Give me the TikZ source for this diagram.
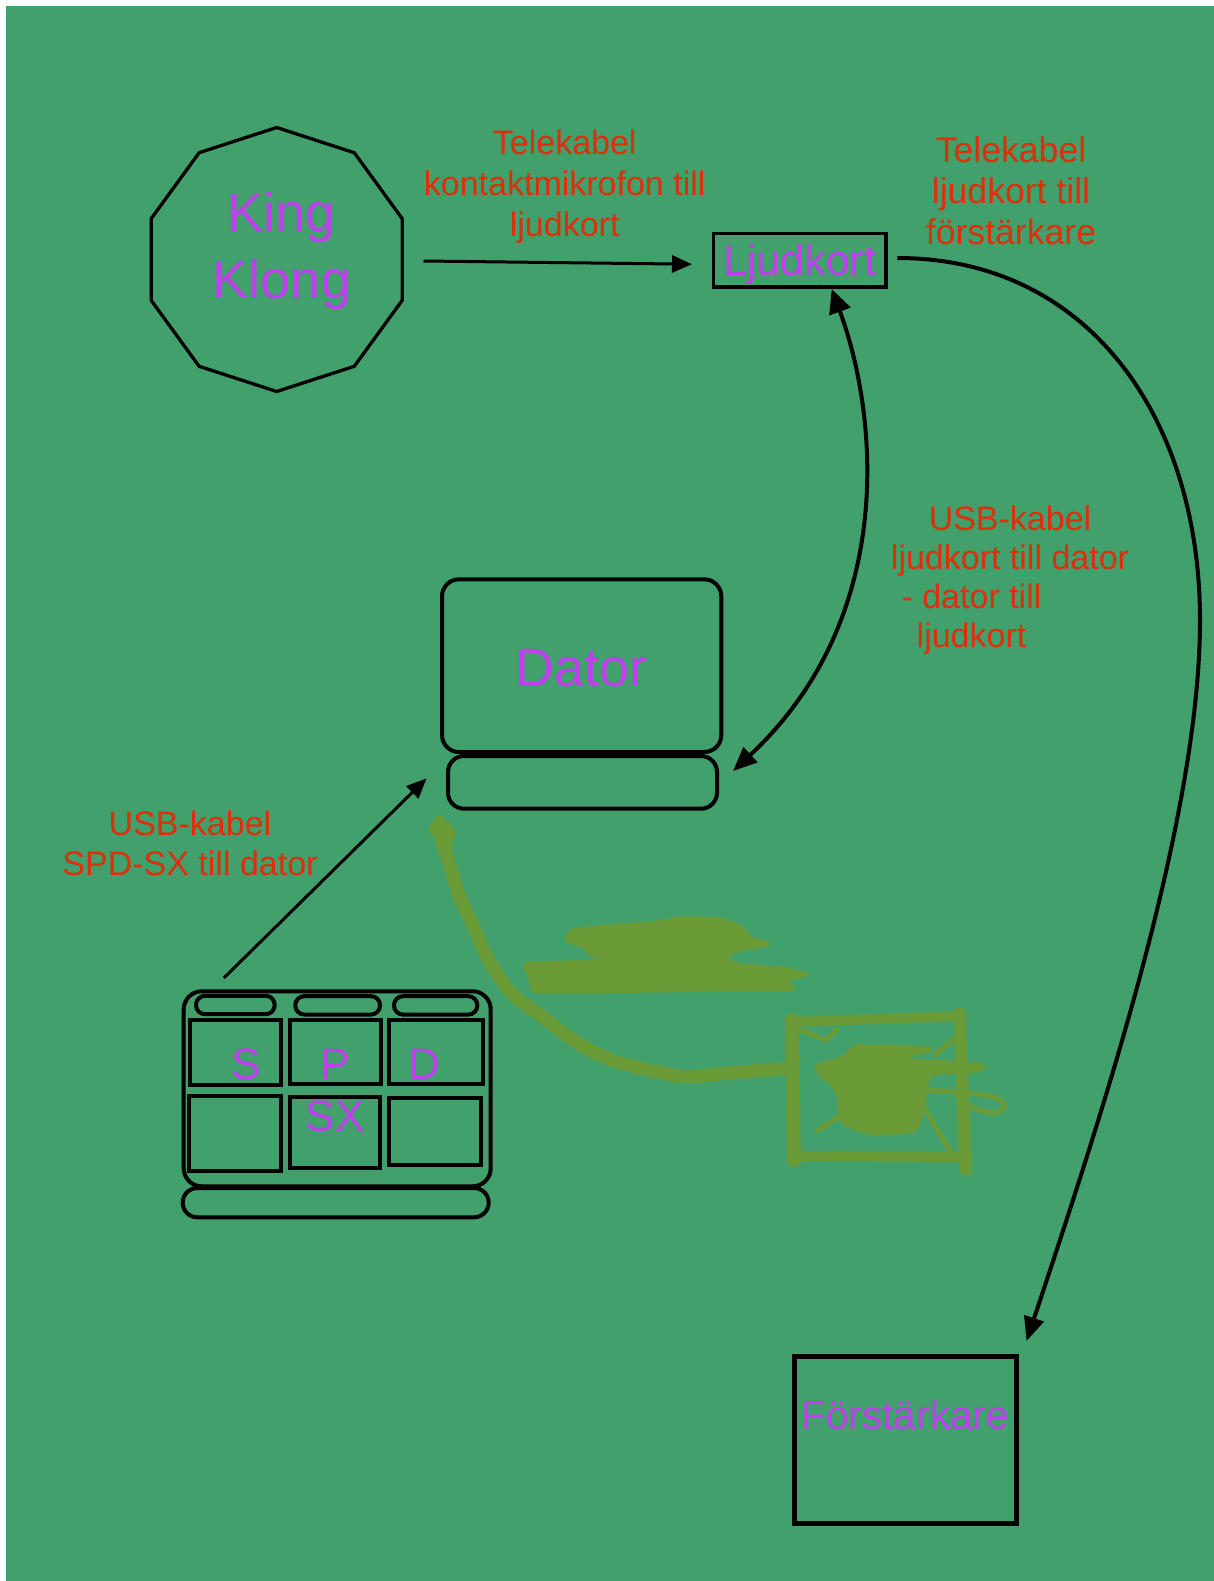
\documentclass[tikz,border=0pt]{standalone}
\usepackage{fontspec}
\setmainfont{Liberation Sans}
\usetikzlibrary{arrows.meta,calc}
\definecolor{bggreen}{RGB}{65,160,107}
\definecolor{txtpurple}{RGB}{192,64,240}
\definecolor{txtred}{RGB}{222,46,10}
\definecolor{scrib}{RGB}{106,154,53}
\begin{document}
\begin{tikzpicture}[x=0.5pt,y=-0.5pt,
  shapebox/.style={draw=black, line width=2pt, inner sep=0pt},
  ptext/.style={text=txtpurple, inner sep=0pt},
  rtext/.style={text=txtred, align=center, inner sep=0pt, font=\fontsize{17pt}{20.5pt}\selectfont},
  straightconn/.style={draw=black, line width=1.5pt, -{Triangle[length=10pt,width=8.5pt]}},
  curveconn/.style={draw=black, line width=2pt},
  scribline/.style={draw=scrib, line cap=round, line join=round},
  pill/.style={shapebox, rounded corners=4.5pt, minimum height=9.2pt},
  pad/.style={shapebox}]
\useasboundingbox (0,0) rectangle (1214,1581);
\fill[white] (0,0) rectangle (1214,1581);
\fill[bggreen] (6,6) rectangle (1214,1581);

% ---- green scribble (freehand drawing) ----
\fill[scrib, rounded corners=2pt] (439,813) -- (447,822) -- (457,830) -- (455,837) -- (451,845) -- (452,858) -- (444,860) -- (440,848) -- (436,837) -- (428,832) -- (430,825) -- cycle;
\draw[scribline, line width=6.5pt] plot[smooth, tension=0.6] coordinates {(441,840) (450.6,866.7) (458.3,893.3) (473.6,926.7) (488.9,960) (511.8,993.3) (542.5,1016.7) (573.1,1040) (611.4,1060) (657.3,1071.7) (687.9,1076.7) (726.2,1073.3) (792,1068)};
\fill[scrib, rounded corners=3pt] (569.3,928.3) -- (603.7,925) -- (649.6,921.7) -- (680.2,916) -- (722.3,917) -- (745.3,926.7) -- (749.1,936.7) -- (772.1,941.7) -- (768.3,946.7) -- (735,952) -- (728,960) -- (640,961) -- (590,958) -- (584.6,948) -- (563.5,941.7) -- (565.4,936.7) -- cycle;
\fill[scrib, rounded corners=3pt] (523.3,961.7) -- (580.7,960) -- (630.5,957) -- (726.2,957) -- (737.6,963.3) -- (783.6,966.7) -- (810.4,973.3) -- (808.4,976.7) -- (787.4,980) -- (797,988.3) -- (793.1,991.7) -- (710.9,991.7) -- (603.7,993.3) -- (531,993.3) -- (529.1,980) -- (523.3,966.7) -- cycle;
\draw[scribline, line width=5pt] (791,1022) -- (960,1016) -- (963,1157) -- (793,1156) -- cycle;
\draw[scribline, line width=7pt] (792,1020) -- (794,1160);
\draw[scribline, line width=6pt] (959.6,1013) -- (966,1170);
\fill[scrib, rounded corners=4pt] (852,1044) -- (933,1046) -- (934,1052) -- (905,1058) -- (986,1063) -- (986,1072) -- (930,1075) -- (925,1110) -- (917.5,1133) -- (872,1136) -- (840,1125) -- (836,1090) -- (814,1072) -- (814,1063) -- (840,1058) -- (850,1050) -- cycle;
\draw[scribline, line width=2.5pt] (800.8,1030) -- (825.7,1040) -- (837,1030);
\draw[scribline, line width=2.5pt] (818,1130) -- (852.5,1108);
\draw[scribline, line width=2.5pt] (917.5,1096.7) -- (955.8,1160);
\draw[scribline, line width=2.5pt] (935,1055) -- (955,1038);
\draw[scribline, line width=2.5pt] plot[smooth] coordinates {(913,1090) (960,1092) (994,1097) (1005,1106) (994,1113) (971,1107) (956,1094)};

% ---- King Klong (decagon) ----
\draw[line width=1.65pt, line join=miter, shift={(276.7,259.5)}] (90:132) \foreach \a in {126,162,...,414} { -- (\a:132) } -- cycle;
\node[ptext, align=center, font=\fontsize{27pt}{33.3pt}\selectfont] (kk) at (282,251.2) {King\\Klong};

% ---- Ljudkort ----
\node[shapebox, line width=1.8pt, minimum width=86.25pt, minimum height=26.75pt, text=txtpurple, font=\fontsize{21.5pt}{25pt}\selectfont, text height=14.75pt, text depth=0pt] (ljud) at (799.75,260.25) {Ljudkort};

% ---- Dator ----
\node[shapebox, rounded corners=8.5pt, minimum width=139.65pt, minimum height=86.35pt, text=txtpurple, font=\fontsize{27pt}{32pt}\selectfont, text height=21.05pt, text depth=0pt] (dator) at (581.65,665.65) {Dator};
\node[shapebox, rounded corners=8pt, minimum width=134.5pt, minimum height=26.35pt] (datorbas) at (582.5,782.35) {};

% ---- Förstärkare ----
\node[shapebox, line width=2.5pt, minimum width=111.25pt, minimum height=83.25pt, text=txtpurple, font=\fontsize{20.3pt}{24pt}\selectfont, text height=0pt, text depth=10.45pt] (forst) at (905.25,1439.75) {Förstärkare};

% ---- SPD-SX ----
\node[shapebox, rounded corners=9pt, minimum width=153.5pt, minimum height=97.5pt] (spd) at (337.2,1088.8) {};
\node[shapebox, rounded corners=7.3pt, minimum width=153pt, minimum height=14.65pt] (spdbar) at (335.7,1202.65) {};
\node[pill, minimum width=39.35pt] (pillA) at (235.35,1005) {};
\node[pill, minimum width=42.35pt] (pillB) at (337.65,1005.35) {};
\node[pill, minimum width=41.65pt] (pillC) at (435.65,1005.35) {};
\node[pad, minimum width=45.2pt, minimum height=32.2pt] (padA) at (235.5,1052.5) {};
\node[pad, minimum width=45.5pt, minimum height=31.85pt] (padB) at (335.8,1052.15) {};
\node[pad, minimum width=46.85pt, minimum height=31.85pt] (padC) at (436.15,1052.15) {};
\node[pad, minimum width=46pt, minimum height=37.35pt] (padD) at (234.7,1133.35) {};
\node[pad, minimum width=44.85pt, minimum height=35.5pt] (padE) at (335.15,1132.5) {};
\node[pad, minimum width=45.7pt, minimum height=33.65pt] (padF) at (435,1131.65) {};
\node[ptext, align=center, font=\fontsize{22pt}{25.85pt}\selectfont] (spdtext) at (335,1090.1) {\makebox[44.6pt]{S}\makebox[44.6pt]{P}\makebox[44.6pt]{D}\\SX};

% ---- red labels ----
\node[rtext] (lab1) at (564.7,186.3) {Telekabel\\kontaktmikrofon till\\ljudkort};
\node[rtext, font=\fontsize{17.8pt}{20.65pt}\selectfont] (lab2) at (1011,190.6) {Telekabel\\ljudkort till\\förstärkare};
\node[rtext, font=\fontsize{17pt}{19.5pt}\selectfont] (lab3) at (1010,579.8) {USB-kabel\\ljudkort till dator\\- dator till\rule{38.5pt}{0pt}\\ljudkort\rule{38.5pt}{0pt}};
\node[rtext, font=\fontsize{17pt}{20pt}\selectfont] (lab4) at (190,843.7) {USB-kabel\\SPD-SX till dator};

% ---- connectors ----
\coordinate (kkout) at (423.5,261);
\coordinate (ljudin) at (692,264.2);
\draw[straightconn] (kkout) -- (ljudin);

\coordinate (ljudbot) at (831.7,289);
\coordinate (datorin) at (733,771);
\draw[curveconn, {Triangle[length=12pt,width=11pt]}-{Triangle[length=12pt,width=10pt]}] (ljudbot) .. controls (880,420) and (895,620) .. (datorin);

\coordinate (ljudout) at (897.4,258);
\coordinate (bend) at (1200,620);
\coordinate (forstin) at (1026.5,1341);
\draw[curveconn, -{Triangle[length=12pt,width=10pt]}] (ljudout) .. controls (1090,258) and (1200,420) .. (bend) .. controls (1200,820) and (1100,1120) .. (forstin);

\coordinate (spdout) at (223.8,978);
\coordinate (datorin2) at (426.5,778.4);
\draw[straightconn] (spdout) -- (datorin2);
\end{tikzpicture}
\end{document}
